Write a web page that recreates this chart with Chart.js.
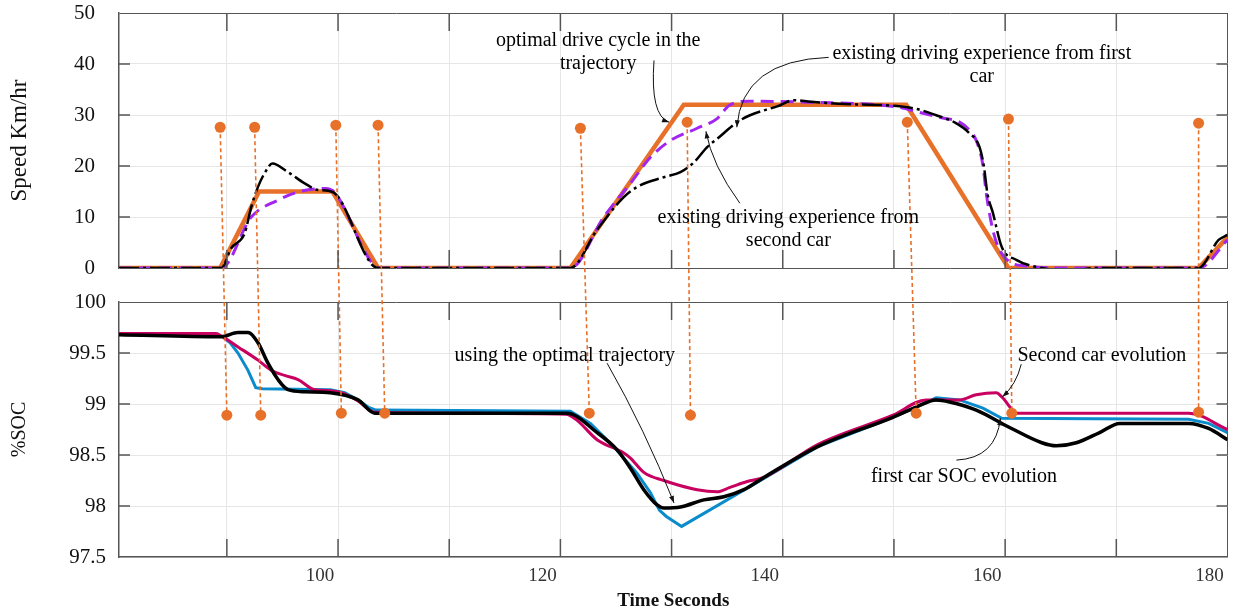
<!DOCTYPE html>
<html lang="en">
<head>
<meta charset="UTF-8">
<title>Speed and SOC along the trajectory</title>
<script src="https://cdn.jsdelivr.net/npm/chart.js"></script>
<style>
  body { margin: 0; background: #fff; }
  #wrap { width: 1233px; height: 612px; position: relative; }
</style>
</head>
<body>
<div id="wrap"><canvas id="c"></canvas></div>
<script>
// ---- speed, top plot (km/h) ----
const optT = [80.3, 89.4, 92.9, 99.5, 103.6, 120.9, 131.1, 151.1, 160.3, 177.4, 180];
const optV = [0, 0, 15, 15, 0, 0, 32, 32, 0, 0, 6];

const car2T = [80.3, 89.5, 92.2, 94.6, 96.4, 98.9, 99.6, 103.8, 120.9, 123.9, 126.3, 128.1, 129.9, 132.3, 134.1, 135.2, 137, 142.4, 150.5, 152.3, 154.4, 155.9, 156.8, 157.4, 158.0, 158.3, 158.8, 159.3, 160.4, 161.9, 164.9, 177.4, 180];
const car2V = [0, 0, 10, 13.3, 14.9, 15.6, 15, 0, 0, 10, 16.6, 21.7, 25, 27.4, 29.3, 31.9, 32.7, 32.5, 31.5, 30.5, 29.4, 28.6, 27, 25, 20.2, 14.7, 8.4, 4.5, 1.2, 0.4, 0, 0, 5.5];

const car1T = [80.3, 89.5, 90.4, 91.6, 92.2, 92.8, 93.4, 94.1, 95.5, 97, 98.2, 99.5, 103.6, 120.9, 123.3, 125.7, 126.9, 129.3, 130.8, 132, 133.2, 134.3, 135.2, 135.9, 137, 139.5, 141, 142.5, 145, 150, 152, 154, 155.5, 156.8, 157.7, 158.1, 158.4, 158.9, 159.7, 161, 163.3, 166.4, 167.8, 177.4, 179.2, 180];
const car1V = [0, 0, 3.9, 6.8, 12, 15.9, 18.6, 20.5, 18.8, 16.6, 15.3, 14.9, 0, 0, 7.5, 13.9, 15.9, 17.8, 18.8, 20.7, 23.7, 25.7, 27.4, 28.6, 29.9, 31.7, 32.9, 32.6, 32.2, 31.8, 31.2, 29.8, 28.5, 26.4, 23.7, 19.8, 14.7, 10.8, 4.1, 1.6, 0, -0.5, 0, 0, 5.5, 6.5];

// ---- state of charge, bottom plot (%) ----
const socOptT = [80.3, 89, 89.6, 90.3, 91, 91.9, 92.6, 93.2, 99.3, 100.6, 101.8, 102.7, 103.4, 120.9, 122.7, 124.8, 126.9, 128.1, 128.9, 129.5, 130.9, 138.3, 143.1, 149.9, 152, 153.8, 155.9, 158, 159.7, 176.5, 178.3, 180];
const socOptV = [99.69, 99.69, 99.66, 99.6, 99.5, 99.33, 99.16, 99.15, 99.14, 99.11, 99.04, 98.97, 98.94, 98.93, 98.81, 98.58, 98.32, 98.13, 97.96, 97.9, 97.8, 98.27, 98.58, 98.87, 98.97, 99.06, 99.04, 98.96, 98.86, 98.85, 98.81, 98.72];

const soc2T = [80.3, 89, 89.6, 91, 92.8, 94, 95.2, 96.4, 97.9, 99.3, 100.6, 101.8, 103.3, 120.5, 121.5, 123.3, 125.7, 126.3, 127.5, 129.3, 132.3, 134.1, 135.2, 136.8, 138.3, 143.1, 149.9, 152.9, 155.9, 157.4, 159.2, 159.7, 161.1, 176.5, 180];
const soc2V = [99.69, 99.69, 99.66, 99.56, 99.43, 99.33, 99.28, 99.24, 99.14, 99.13, 99.1, 99.03, 98.92, 98.9, 98.84, 98.65, 98.52, 98.47, 98.33, 98.25, 98.16, 98.14, 98.18, 98.24, 98.28, 98.6, 98.89, 99.04, 99.04, 99.09, 99.11, 99.07, 98.91, 98.91, 98.75];

const soc1T = [80.3, 89.5, 91, 91.9, 92.8, 93.7, 94.6, 95.5, 97, 99.3, 101.8, 103.3, 120.6, 123.3, 125.1, 126.3, 127.5, 128.7, 129.3, 130.8, 132.9, 134.7, 136.5, 138.3, 143.1, 149.9, 152, 153.8, 155, 157.4, 160.4, 163.3, 164.6, 166.4, 168.5, 170.3, 176.5, 178.3, 180];
const soc1V = [99.68, 99.66, 99.7, 99.7, 99.6, 99.4, 99.24, 99.14, 99.12, 99.11, 99.04, 98.91, 98.91, 98.72, 98.55, 98.37, 98.16, 98.01, 97.98, 97.99, 98.06, 98.09, 98.16, 98.28, 98.58, 98.87, 98.97, 99.04, 99.02, 98.94, 98.77, 98.62, 98.59, 98.62, 98.72, 98.81, 98.81, 98.76, 98.65];

// ---- event markers (top dot -> bottom dot) ----
const markTopT = [89.4, 92.5, 99.8, 103.6, 121.8, 131.4, 151.2, 160.3, 177.4];
const markTopV = [27.6, 27.6, 28.0, 28.0, 27.4, 28.6, 28.6, 29.2, 28.4];
const markBotT = [90.0, 93.05, 100.3, 104.2, 122.6, 131.7, 152.0, 160.6, 177.4];
const markBotV = [98.89, 98.89, 98.91, 98.91, 98.91, 98.89, 98.91, 98.91, 98.92];

const pts = (t, v) => t.map((x, i) => ({x: x, y: v[i]}));

const serif = '"Liberation Serif", "Times New Roman", serif';
const ORANGE = '#e8712a';
const FRAME = '#555';
const GRID = '#e6e6e6';

// text notes and arrows, in data units of the given axis
const notes = [
  {axis: 'yTop', x: 123.4, y: 44.6, lines: ['optimal drive cycle in the', 'trajectory']},
  {axis: 'yTop', x: 157.9, y: 42.1, lines: ['existing driving experience from first', 'car']},
  {axis: 'yTop', x: 140.5, y: 9.8, lines: ['existing driving experience from', 'second car']},
  {axis: 'yBot', x: 120.4, y: 99.47, lines: ['using the optimal trajectory']},
  {axis: 'yBot', x: 168.7, y: 99.47, lines: ['Second car evolution']},
  {axis: 'yBot', x: 156.3, y: 98.29, lines: ['first car SOC evolution']}
];
const arrows = [
  {axis: 'yTop', from: [128.42, 40.7], via: [128.06, 29.9], to: [129.77, 28.6]},
  {axis: 'yTop', from: [144.13, 41.3], via: [136.32, 40.7], to: [135.87, 27.6]},
  {axis: 'yTop', from: [136.14, 12.7], via: [133.63, 20.2], to: [133.09, 26.8]},
  {axis: 'yBot', from: [124.2, 99.40], via: [127.6, 98.75], to: [130.22, 98.03]},
  {axis: 'yBot', from: [161.45, 99.39], via: [161.0, 99.19], to: [159.75, 99.07]},
  {axis: 'yBot', from: [155.62, 98.45], via: [159.2, 98.47], to: [159.57, 98.86]}
];

const figure = {
  id: 'figure',
  beforeDatasetsDraw(chart) {
    // blank the strip between the two plots
    const {ctx, chartArea, scales} = chart;
    const g = scales.yGap;
    ctx.save();
    ctx.fillStyle = '#fff';
    ctx.fillRect(chartArea.left - 2, g.top + 1, chartArea.width + 4, g.height - 2);
    ctx.restore();
  },
  afterDatasetsDraw(chart) {
    const {ctx, chartArea, scales} = chart;
    const x = scales.x, yT = scales.yTop, yB = scales.yBot;
    ctx.save();

    // dashed connectors between the markers
    ctx.strokeStyle = ORANGE;
    ctx.lineWidth = 1.6;
    ctx.setLineDash([4, 3]);
    markTopT.forEach((t, i) => {
      ctx.beginPath();
      ctx.moveTo(x.getPixelForValue(t), yT.getPixelForValue(markTopV[i]));
      ctx.lineTo(x.getPixelForValue(markBotT[i]), yB.getPixelForValue(markBotV[i]));
      ctx.stroke();
    });
    ctx.setLineDash([]);

    // inward ticks, matlab style
    ctx.strokeStyle = FRAME;
    ctx.lineWidth = 1.5;
    const L = chartArea.left, R = chartArea.right;
    x.ticks.forEach(tk => {
      if (tk.value <= x.min || tk.value >= x.max) return;
      const px = x.getPixelForValue(tk.value);
      [yT, yB].forEach(s => {
        ctx.beginPath();
        ctx.moveTo(px, s.top); ctx.lineTo(px, s.top + 18);
        ctx.moveTo(px, s.bottom); ctx.lineTo(px, s.bottom - 18);
        ctx.stroke();
      });
    });
    [yT, yB].forEach(s => {
      s.ticks.forEach(tk => {
        if (tk.value <= s.min || tk.value >= s.max) return;
        const py = s.getPixelForValue(tk.value);
        ctx.beginPath();
        ctx.moveTo(L, py); ctx.lineTo(L + 11, py);
        ctx.moveTo(R, py); ctx.lineTo(R - 11, py);
        ctx.stroke();
      });
    });

    // arrows
    ctx.strokeStyle = '#111';
    ctx.fillStyle = '#111';
    ctx.lineWidth = 1;
    arrows.forEach(a => {
      const s = scales[a.axis];
      const p0 = [x.getPixelForValue(a.from[0]), s.getPixelForValue(a.from[1])];
      const p1 = [x.getPixelForValue(a.via[0]), s.getPixelForValue(a.via[1])];
      const p2 = [x.getPixelForValue(a.to[0]), s.getPixelForValue(a.to[1])];
      ctx.beginPath();
      ctx.moveTo(p0[0], p0[1]);
      ctx.quadraticCurveTo(p1[0], p1[1], p2[0], p2[1]);
      ctx.stroke();
      const ang = Math.atan2(p2[1] - p1[1], p2[0] - p1[0]);
      ctx.beginPath();
      ctx.moveTo(p2[0], p2[1]);
      ctx.lineTo(p2[0] - 7 * Math.cos(ang) + 2.5 * Math.sin(ang), p2[1] - 7 * Math.sin(ang) - 2.5 * Math.cos(ang));
      ctx.lineTo(p2[0] - 7 * Math.cos(ang) - 2.5 * Math.sin(ang), p2[1] - 7 * Math.sin(ang) + 2.5 * Math.cos(ang));
      ctx.closePath();
      ctx.fill();
    });

    // notes
    ctx.font = '20px ' + serif;
    ctx.fillStyle = '#000';
    ctx.textAlign = 'center';
    ctx.textBaseline = 'middle';
    notes.forEach(n => {
      const s = scales[n.axis];
      const px = x.getPixelForValue(n.x), py = s.getPixelForValue(n.y);
      n.lines.forEach((line, i) => ctx.fillText(line, px, py + i * 23));
    });
    ctx.restore();
  }
};

const lineSet = (label, data, axis, color, width, extra) => Object.assign({
  label: label, data: data, yAxisID: axis, borderColor: color, borderWidth: width,
  pointRadius: 0, fill: false, cubicInterpolationMode: 'monotone'
}, extra);

const markSet = (label, data, axis) => ({
  label: label, data: data, yAxisID: axis, showLine: false, pointRadius: 5.5,
  pointBackgroundColor: ORANGE, pointBorderColor: ORANGE, pointBorderWidth: 0, order: 0
});

const noPad = s => { s.width = 119; s.paddingTop = 0; s.paddingBottom = 0; };

new Chart(document.getElementById('c'), {
  type: 'line',
  data: {
    datasets: [
      markSet('events (speed)', pts(markTopT, markTopV), 'yTop'),
      markSet('events (SOC)', pts(markBotT, markBotV), 'yBot'),
      lineSet('first car', pts(car1T, car1V), 'yTop', '#000', 2.5, {borderDash: [20, 4, 3, 4], order: 1}),
      lineSet('second car', pts(car2T, car2V), 'yTop', '#a326ee', 3, {borderDash: [13, 7], order: 2}),
      lineSet('optimal drive cycle', pts(optT, optV), 'yTop', ORANGE, 4.5, {cubicInterpolationMode: 'default', tension: 0, order: 3}),
      lineSet('first car SOC', pts(soc1T, soc1V), 'yBot', '#000', 3.5, {order: 1}),
      lineSet('second car SOC', pts(soc2T, soc2V), 'yBot', '#c8005f', 3, {order: 2}),
      lineSet('optimal SOC', pts(socOptT, socOptV), 'yBot', '#0a8bcb', 3, {cubicInterpolationMode: 'default', tension: 0, order: 3})
    ]
  },
  options: {
    responsive: true,
    maintainAspectRatio: false,
    animation: false,
    layout: {padding: {top: 13, right: 1, bottom: 0, left: 0}},
    plugins: {legend: {display: false}, tooltip: {enabled: false}},
    scales: {
      x: {
        type: 'linear', min: 80.3, max: 180,
        ticks: {
          stepSize: 10, autoSkip: false, maxRotation: 0, padding: 8, labelOffset: -18,
          callback: v => (v % 20 === 0 ? v : ''),
          font: {family: serif, size: 19}, color: '#333'
        },
        grid: {color: c => (c.tick && c.tick.value === 180 ? FRAME : (c.tick && c.tick.value < 81 ? 'rgba(0,0,0,0)' : GRID)), drawTicks: false},
        border: {color: FRAME, width: 1.5},
        title: {display: true, text: 'Time Seconds', font: {family: serif, size: 19, weight: 'bold'}, color: '#111', padding: {top: 0, bottom: 0}},
        afterFit: s => { s.height = 55; s.paddingLeft = 0; s.paddingRight = 0; }
      },
      yBot: {
        type: 'linear', position: 'left', stack: 'plots', stackWeight: 255, min: 97.5, max: 100,
        ticks: {stepSize: 0.5, autoSkip: false, padding: 13, callback: v => String(v), font: {family: serif, size: 21}, color: '#111'},
        grid: {color: c => (c.tick && c.tick.value === 100 ? FRAME : GRID), drawTicks: false},
        border: {color: FRAME, width: 1.5},
        title: {display: true, text: '%SOC', font: {family: serif, size: 20}, color: '#111', padding: {top: 8, bottom: 0}},
        afterFit: noPad
      },
      yGap: {
        type: 'linear', position: 'left', stack: 'plots', stackWeight: 34, min: 0, max: 1,
        ticks: {display: false}, grid: {display: false}, border: {display: false},
        afterFit: noPad
      },
      yTop: {
        type: 'linear', position: 'left', stack: 'plots', stackWeight: 255, min: 0, max: 50,
        ticks: {stepSize: 10, autoSkip: false, padding: 24, callback: v => String(v), font: {family: serif, size: 21}, color: '#111'},
        grid: {color: c => (c.tick && (c.tick.value === 0 || c.tick.value === 50) ? FRAME : GRID), drawTicks: false},
        border: {color: FRAME, width: 1.5},
        title: {display: true, text: 'Speed Km/hr', font: {family: serif, size: 23}, color: '#111', padding: {top: 6, bottom: 0}},
        afterFit: noPad
      }
    }
  },
  plugins: [figure]
});
</script>
</body>
</html>
